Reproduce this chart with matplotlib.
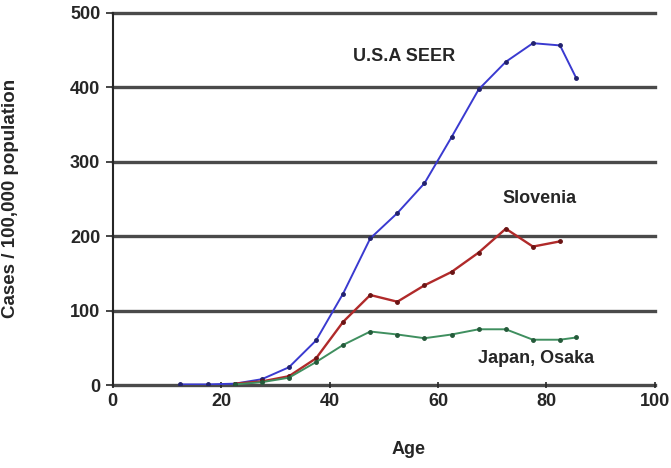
import matplotlib
matplotlib.use("Agg")
import matplotlib.pyplot as plt

# Age-group midpoints (years)
ages_usa = [12.5, 17.5, 22.5, 27.5, 32.5, 37.5, 42.5, 47.5, 52.5, 57.5, 62.5, 67.5, 72.5, 77.5, 82.5, 85.5]
ages_slovenia = [22.5, 27.5, 32.5, 37.5, 42.5, 47.5, 52.5, 57.5, 62.5, 67.5, 72.5, 77.5, 82.5]
ages_japan = [22.5, 27.5, 32.5, 37.5, 42.5, 47.5, 52.5, 57.5, 62.5, 67.5, 72.5, 77.5, 82.5, 85.5]

# Incidence, cases per 100,000 population
usa_seer = [1, 1, 2, 8, 24, 60, 123, 197, 231, 271, 333, 397, 434, 459, 456, 412]
slovenia = [2, 5, 12, 36, 85, 121, 112, 134, 152, 178, 210, 186, 193]
japan_osaka = [1, 4, 10, 31, 54, 72, 68, 63, 68, 75, 75, 61, 61, 64]

x_ticks = [0, 20, 40, 60, 80, 100]
y_ticks = [0, 100, 200, 300, 400, 500]

plt.rcParams["font.family"] = ["Liberation Sans", "DejaVu Sans"]
plt.rcParams["font.weight"] = "bold"
base = 13

txt = "#262626"

fig = plt.figure(figsize=(6.71, 4.68), dpi=100)
ax = fig.add_axes([0.168, 0.177, 0.808, 0.796])

ax.set_xlim(0, 100)
ax.set_ylim(0, 500)

# Horizontal grid bands
for yv in y_ticks:
    ax.axhline(yv, color="#4a4a4a", lw=2.4, zorder=1, clip_on=False)

ax.plot(ages_usa, usa_seer, color="#3a3ad0", lw=1.4, marker="o", ms=2.5,
        mfc="#22226e", mec="#22226e", zorder=3)
ax.plot(ages_slovenia, slovenia, color="#b02a2a", lw=1.7, marker="o", ms=2.5,
        mfc="#6a1414", mec="#6a1414", zorder=3)
ax.plot(ages_japan, japan_osaka, color="#3f8f5f", lw=1.4, marker="o", ms=2.5,
        mfc="#245a3a", mec="#245a3a", zorder=3)

ax.text(53.7, 441, "U.S.A SEER", ha="center", va="center", fontsize=base, color=txt)
ax.text(78.8, 251, "Slovenia", ha="center", va="center", fontsize=base, color=txt)
ax.text(78, 36, "Japan, Osaka", ha="center", va="center", fontsize=base, color=txt)

ax.set_xticks(x_ticks)
ax.set_yticks(y_ticks)
ax.tick_params(axis="both", labelsize=base, colors=txt, length=5, width=1.2)
ax.tick_params(axis="x", direction="inout", pad=3)
ax.tick_params(axis="y", pad=4)
for lbl in ax.get_xticklabels() + ax.get_yticklabels():
    lbl.set_fontweight("bold")

for side in ("top", "right", "bottom"):
    ax.spines[side].set_visible(False)
ax.spines["left"].set_color(txt)
ax.spines["left"].set_linewidth(1.5)

ax.set_xlabel("Age", fontsize=base, color=txt, fontweight="bold")
ax.set_ylabel("Cases / 100,000 population", fontsize=13.5, color=txt, fontweight="bold")
ax.xaxis.set_label_coords(0.545, -0.15)
ax.yaxis.set_label_coords(-0.172, 0.5)

fig.savefig("out.png", dpi=100, facecolor="white")
